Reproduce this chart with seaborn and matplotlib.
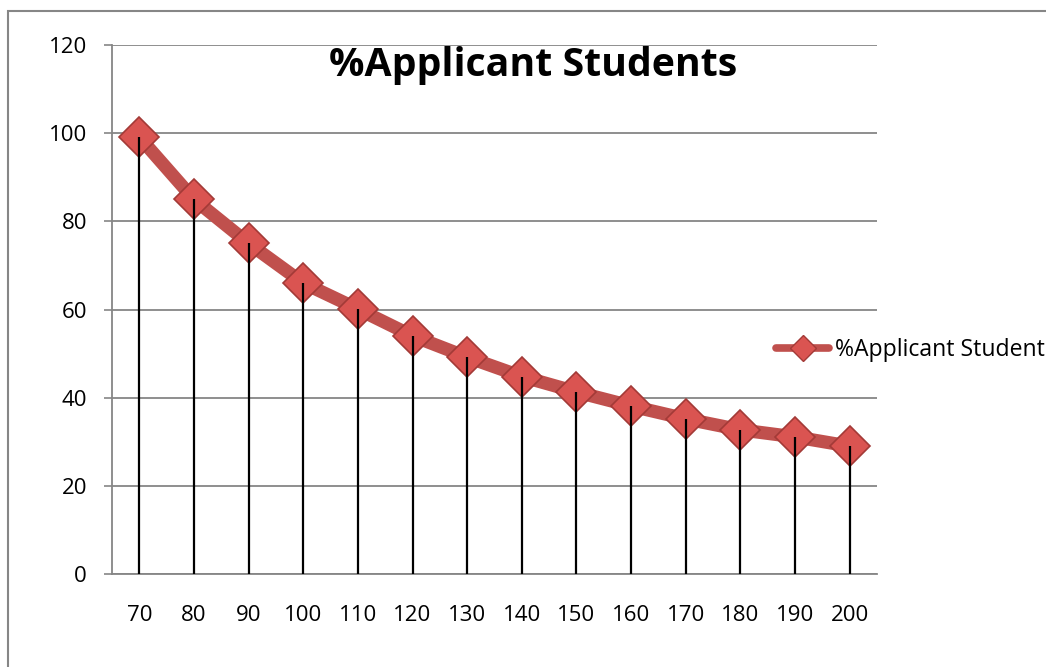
import matplotlib
matplotlib.use("Agg")
import matplotlib.pyplot as plt
import seaborn as sns
import pandas as pd
import numpy as np
from matplotlib.patches import Rectangle
from matplotlib.lines import Line2D

# ---- data ----
categories = [70, 80, 90, 100, 110, 120, 130, 140, 150, 160, 170, 180, 190, 200]
values = [99.1, 85.0, 75.0, 66.0, 60.1, 54.0, 49.2, 44.8, 41.3, 38.1, 35.2, 32.7, 31.1, 29.0]
series_name = "%Applicant Student"
title = "%Applicant Students"
y_ticks = [0, 20, 40, 60, 80, 100, 120]

sns.set_style("white")
plt.rcParams["font.family"] = ["Open Sans", "DejaVu Sans"]
plt.rcParams["text.color"] = "black"
plt.rcParams["xtick.color"] = "black"
plt.rcParams["ytick.color"] = "black"

W, H = 1046, 667
fig = plt.figure(figsize=(W / 100, H / 100), dpi=100)
ax = fig.add_axes([112 / W, 1 - 574 / H, (877 - 112) / W, (574 - 45) / H])

df = pd.DataFrame({"pos": np.arange(len(categories)), "value": values})

line_col = "#C0504D"
face_col = "#DA5451"
edge_col = "#A33A37"
sns.lineplot(data=df, x="pos", y="value", ax=ax, color=line_col, linewidth=9.5,
             marker="D", markersize=20, markerfacecolor=face_col,
             markeredgecolor=edge_col, markeredgewidth=1.2,
             label=series_name, zorder=3, legend=False)

# drop lines
ax.vlines(df["pos"], 0, df["value"], color="black", linewidth=1.6, zorder=4)

ax.set_xlim(-0.5, len(categories) - 0.5)
ax.set_ylim(0, 120)
ax.set_yticks(y_ticks)
ax.set_yticklabels([str(t) for t in y_ticks], fontsize=16, color="black")
ax.set_xticks(df["pos"])
ax.set_xticklabels([str(c) for c in categories], fontsize=16, color="black")
ax.set_xticks(np.arange(-0.5, len(categories), 1.0), minor=True)
ax.tick_params(axis="x", which="major", length=0, pad=22, labelcolor="black")
ax.tick_params(axis="x", which="minor", length=6, width=1.2, color="#868686", direction="out")
ax.tick_params(axis="y", which="major", length=6, width=1.2, color="#868686", direction="out",
               pad=12, left=True, labelcolor="black")
ax.set_xlabel("")
ax.set_ylabel("")

ax.grid(axis="y", color="#868686", linewidth=1.3, zorder=0)
ax.set_axisbelow(True)
for s in ["top", "right"]:
    ax.spines[s].set_visible(False)
for s in ["left", "bottom"]:
    ax.spines[s].set_color("#868686")
    ax.spines[s].set_linewidth(1.3)

fig.text(533 / W, 1 - 76 / H, title, ha="center", va="baseline",
         fontsize=28.3, fontweight="bold", color="black")

h = Line2D([], [], color=line_col, linewidth=5.5, marker="D", markersize=13,
           markerfacecolor=face_col, markeredgecolor=edge_col)
fig.legend([h], [series_name], loc="center left",
           bbox_to_anchor=(776 / W, 1 - 350 / H), frameon=False,
           fontsize=16.6, handlelength=2.3, handletextpad=0.25, borderpad=0, borderaxespad=0)

# chart border
fig.add_artist(Rectangle((8 / W, -0.2), 1.5, 1.2 - 11 / H, transform=fig.transFigure,
                         fill=False, edgecolor="#868686", linewidth=1.5))

fig.savefig("out.png", dpi=100)
